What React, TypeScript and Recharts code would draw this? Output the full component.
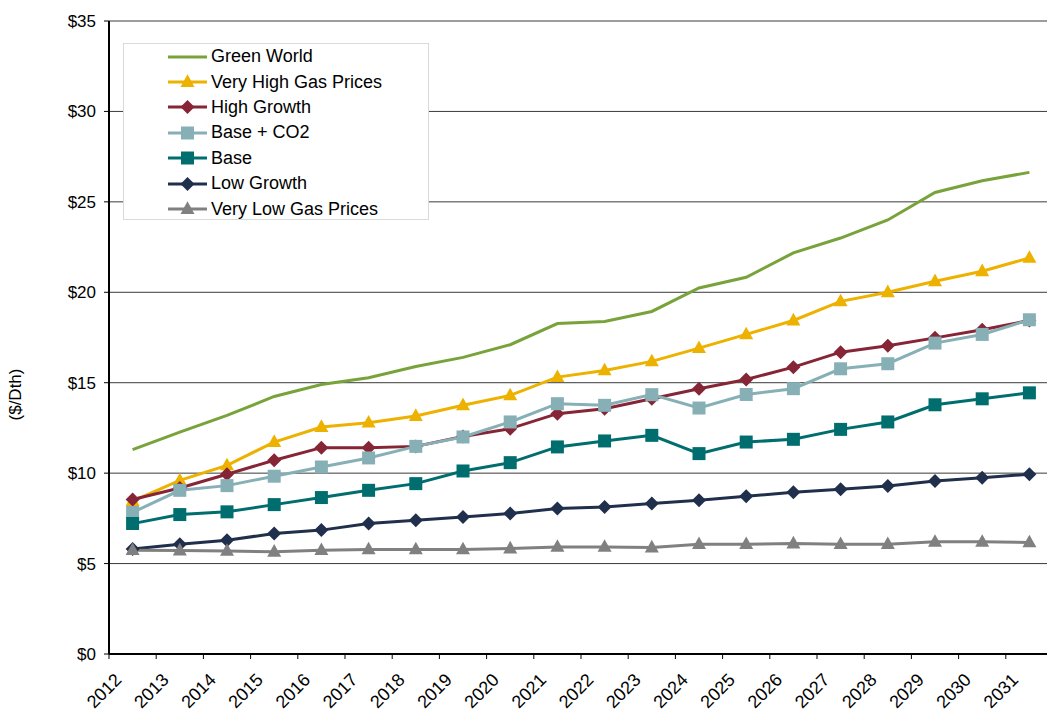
import React from 'react';
import { LineChart, Line, XAxis, YAxis, CartesianGrid, Legend } from 'recharts';

const years = ['2012', '2013', '2014', '2015', '2016', '2017', '2018', '2019', '2020', '2021',
  '2022', '2023', '2024', '2025', '2026', '2027', '2028', '2029', '2030', '2031'];

const greenWorld = [11.3, 12.27, 13.19, 14.24, 14.9, 15.27, 15.9, 16.4, 17.1, 18.27, 18.38, 18.94, 20.24, 20.83, 22.18, 23.0, 24.0, 25.52, 26.17, 26.63];
const veryHighGas = [8.45, 9.6, 10.43, 11.72, 12.55, 12.79, 13.16, 13.75, 14.3, 15.31, 15.68, 16.18, 16.91, 17.67, 18.44, 19.5, 20.0, 20.61, 21.16, 21.9];
const highGrowth = [8.54, 9.18, 9.94, 10.71, 11.41, 11.41, 11.48, 12.03, 12.46, 13.29, 13.56, 14.11, 14.67, 15.18, 15.86, 16.69, 17.04, 17.48, 17.93, 18.44];
const baseCO2 = [7.83, 9.05, 9.31, 9.83, 10.34, 10.84, 11.48, 12.0, 12.83, 13.84, 13.75, 14.34, 13.6, 14.35, 14.67, 15.77, 16.05, 17.19, 17.67, 18.48];
const base = [7.21, 7.71, 7.86, 8.26, 8.65, 9.05, 9.42, 10.12, 10.58, 11.45, 11.78, 12.09, 11.08, 11.72, 11.87, 12.42, 12.83, 13.78, 14.11, 14.44];
const lowGrowth = [5.81, 6.07, 6.29, 6.66, 6.85, 7.21, 7.4, 7.58, 7.77, 8.04, 8.13, 8.32, 8.5, 8.72, 8.94, 9.11, 9.29, 9.57, 9.75, 9.94];
const veryLowGas = [5.74, 5.72, 5.7, 5.65, 5.74, 5.78, 5.78, 5.78, 5.83, 5.92, 5.92, 5.89, 6.07, 6.07, 6.11, 6.07, 6.07, 6.2, 6.2, 6.17];

const yTicks = [0, 5, 10, 15, 20, 25, 30, 35];

type Shape = 'none' | 'triangle' | 'diamond' | 'square';

const series: { key: string; name: string; color: string; shape: Shape; values: number[] }[] = [
  { key: 'green', name: 'Green World', color: '#77a33a', shape: 'none', values: greenWorld },
  { key: 'vhigh', name: 'Very High Gas Prices', color: '#edb100', shape: 'triangle', values: veryHighGas },
  { key: 'high', name: 'High Growth', color: '#862535', shape: 'diamond', values: highGrowth },
  { key: 'baseco2', name: 'Base + CO2', color: '#87b0b6', shape: 'square', values: baseCO2 },
  { key: 'base', name: 'Base', color: '#006e6e', shape: 'square', values: base },
  { key: 'low', name: 'Low Growth', color: '#202f4c', shape: 'diamond', values: lowGrowth },
  { key: 'vlow', name: 'Very Low Gas Prices', color: '#808080', shape: 'triangle', values: veryLowGas },
];

const data = years.map((y, i) => {
  const row: Record<string, number | string> = { x: i, year: y };
  series.forEach(s => { row[s.key] = s.values[i]; });
  return row;
});

// category boundaries, where the x tick marks go
const bounds = [...years.map((_, i) => i - 0.5), years.length - 0.5];

const FONT = '"Liberation Sans", Arial, sans-serif';

function shapePath(shape: Shape, cx: number, cy: number) {
  if (shape === 'triangle') return `M${cx},${cy - 7.7}L${cx + 7},${cy + 4.9}L${cx - 7},${cy + 4.9}Z`;
  if (shape === 'square') return `M${cx - 6.5},${cy - 6.5}h13v13h-13Z`;
  if (shape === 'diamond') return `M${cx},${cy - 7}L${cx + 7},${cy}L${cx},${cy + 7}L${cx - 7},${cy}Z`;
  return '';
}

const makeDot = (shape: Shape, color: string) => (props: any) => {
  const { cx, cy, index } = props;
  if (shape === 'none' || cx == null || cy == null) return <g key={`d-${index}`} />;
  return <path key={`d-${index}`} d={shapePath(shape, cx, cy)} fill={color} />;
};

const YearTick = (props: any) => {
  const { x, y, payload } = props;
  const tx = x - 10;
  const ty = y + 26;
  return (
    <text x={tx} y={ty} transform={`rotate(-45 ${tx} ${ty})`} textAnchor="end" fontSize={18} fontFamily={FONT} fill="#000">
      {years[payload.value]}
    </text>
  );
};

const YLabel = (props: any) => {
  const { x, y, height } = props.viewBox;
  const cx = x + 15;
  const cy = y + height / 2 + 57;
  return (
    <text x={cx} y={cy} transform={`rotate(-90 ${cx} ${cy})`} textAnchor="middle" dominantBaseline="central" fontSize={17} fontFamily={FONT} fill="#000">
      ($/Dth)
    </text>
  );
};

const LegendBox = () => (
  <div style={{ width: '100%', height: '100%', boxSizing: 'border-box', border: '1px solid #d9d9d9', background: '#fff', fontFamily: FONT, fontSize: 18, color: '#000' }}>
    {series.map(s => (
      <div key={s.key} style={{ display: 'flex', alignItems: 'center', height: 25.4, paddingLeft: 44 }}>
        <svg width={43} height={20} style={{ flex: 'none' }}>
          <line x1={0} y1={10} x2={39} y2={10} stroke={s.color} strokeWidth={3} />
          {s.shape !== 'none' && <path d={shapePath(s.shape, 19.5, 10)} fill={s.color} />}
        </svg>
        <span style={{ whiteSpace: 'nowrap' }}>{s.name}</span>
      </div>
    ))}
  </div>
);

export default function App() {
  return (
    <div style={{ position: 'absolute', left: 0, top: 0, width: 1047, height: 712, overflow: 'hidden', background: '#fff' }}>
      <LineChart width={1070} height={712} data={data} margin={{ top: 21, right: 17, bottom: 0, left: 0 }}>
        <CartesianGrid vertical={false} stroke="#3a3a3a" strokeWidth={1} xAxisId="lbl" />
        <XAxis
          xAxisId="grid"
          dataKey="x"
          type="number"
          domain={[-0.5, years.length - 0.5]}
          ticks={bounds}
          interval={0}
          tickFormatter={() => ' '}
          height={1}
          tickSize={5}
          tickLine={{ stroke: '#000', strokeWidth: 1 }}
          axisLine={{ stroke: '#000', strokeWidth: 2 }}
        />
        <XAxis
          xAxisId="lbl"
          dataKey="x"
          type="number"
          domain={[-0.5, years.length - 0.5]}
          ticks={years.map((_, i) => i)}
          interval={0}
          height={57}
          tickSize={0}
          tickMargin={0}
          tickLine={false}
          axisLine={false}
          tick={<YearTick />}
        />
        <YAxis
          width={109}
          domain={[0, 35]}
          ticks={yTicks}
          interval={0}
          tickFormatter={(v: number) => `$${v}`}
          tickSize={5}
          tickMargin={8}
          tick={{ fontSize: 17, fontFamily: FONT, fill: '#000' }}
          tickLine={{ stroke: '#000' }}
          axisLine={{ stroke: '#000', strokeWidth: 2 }}
          label={<YLabel />}
        />
        <Legend
          layout="vertical"
          align="center"
          verticalAlign="middle"
          content={<LegendBox />}
          wrapperStyle={{ position: 'absolute', left: 123, top: 43, width: 306, height: 177 }}
        />
        {series.map(s => (
          <Line
            key={s.key}
            xAxisId="lbl"
            type="linear"
            dataKey={s.key}
            name={s.name}
            stroke={s.color}
            strokeWidth={3}
            dot={makeDot(s.shape, s.color)}
            activeDot={false}
            isAnimationActive={false}
          />
        ))}
      </LineChart>
    </div>
  );
}
